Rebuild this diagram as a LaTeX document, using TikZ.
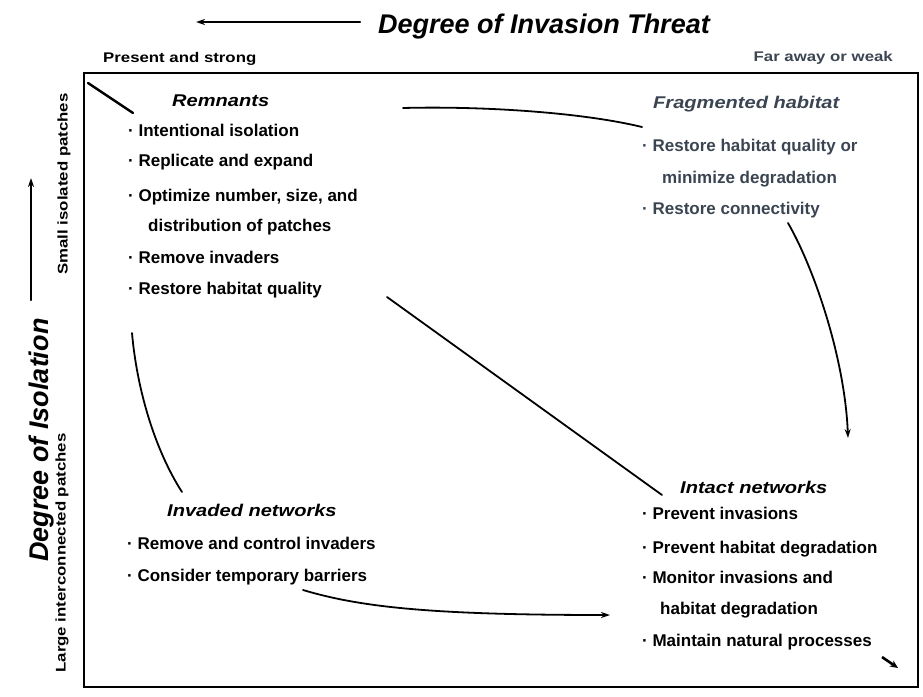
\documentclass[tikz,border=0pt]{standalone}
\usepackage{fontspec}
\usetikzlibrary{arrows.meta}
\newfontfamily\bodyfont{Liberation Sans}
\newfontfamily\headfont[FakeStretch=1.18]{Liberation Sans}
\newfontfamily\smallfont[FakeStretch=1.2]{Liberation Sans}
\newfontfamily\bigfont[FakeStretch=1.0]{Liberation Sans}
\definecolor{slate}{HTML}{3B4552}
\tikzset{
  bodytxt/.style={anchor=base west, inner sep=0pt, font=\bodyfont\bfseries\fontsize{17}{20}\selectfont},
  headtxt/.style={anchor=base west, inner sep=0pt, font=\headfont\bfseries\itshape\fontsize{17}{20}\selectfont},
  smalltxt/.style={inner sep=0pt, font=\smallfont\bfseries\fontsize{14}{16}\selectfont},
  bigtxt/.style={inner sep=0pt, font=\bigfont\bfseries\itshape\fontsize{27}{30}\selectfont},
  conn/.style={line width=1.8pt, line cap=round},
  arrowtip/.style={-{Stealth[length=9pt,width=6pt]}}
}
\begin{document}
\begin{tikzpicture}[x=1pt,y=-1pt]
\useasboundingbox (0,0) rectangle (923,696);
% frame
\draw[line width=2.6pt] (84,73) rectangle (918,687);

% top axis
\node[bigtxt, anchor=base west] (ttitle) at (378,33) {Degree of Invasion Threat};
\coordinate (tarrS) at (360,22);
\coordinate (tarrE) at (196,22);
\draw[conn, line width=2.2pt, arrowtip] (tarrS) -- (tarrE);
\node[smalltxt, anchor=base west] (tleft) at (103,62) {Present and strong};
\node[smalltxt, anchor=base east, text=slate] (tright) at (893,61) {Far away or weak};

% left axis
\node[bigtxt, rotate=90] (ltitle) at (42,440) {Degree of Isolation};
\coordinate (larrS) at (31,300);
\coordinate (larrE) at (31,178);
\draw[conn, line width=2.2pt, arrowtip] (larrS) -- (larrE);
\node[smalltxt, rotate=90] (ltop) at (64,184) {Small isolated patches};
\node[smalltxt, rotate=90] (lbot) at (62,553) {Large interconnected patches};

% Remnants
\node[headtxt] (remT) at (172,106) {Remnants};
\node[bodytxt] (rem1) at (128,136) {· Intentional isolation};
\node[bodytxt] (rem2) at (128,166) {· Replicate and expand};
\node[bodytxt] (rem3) at (128,201) {· Optimize number, size, and};
\node[bodytxt] (rem4) at (148,231) {distribution of patches};
\node[bodytxt] (rem5) at (128,263) {· Remove invaders};
\node[bodytxt] (rem6) at (128,294) {· Restore habitat quality};

% Fragmented habitat
\node[headtxt, text=slate] (fraT) at (653,108) {Fragmented habitat};
\node[bodytxt, text=slate] (fra1) at (642,151) {· Restore habitat quality or};
\node[bodytxt, text=slate] (fra2) at (662,183) {minimize degradation};
\node[bodytxt, text=slate] (fra3) at (642,214) {· Restore connectivity};

% Invaded networks
\node[headtxt] (invT) at (167,516) {Invaded networks};
\node[bodytxt] (inv1) at (127,549) {· Remove and control invaders};
\node[bodytxt] (inv2) at (127,581) {· Consider temporary barriers};

% Intact networks
\node[headtxt] (intT) at (680,493) {Intact networks};
\node[bodytxt] (int1) at (642,519) {· Prevent invasions};
\node[bodytxt] (int2) at (642,553) {· Prevent habitat degradation};
\node[bodytxt] (int3) at (642,583) {· Monitor invasions and};
\node[bodytxt] (int4) at (660,614) {habitat degradation};
\node[bodytxt] (int5) at (642,646) {· Maintain natural processes};

% connectors
\coordinate (cA) at (88,83);
\coordinate (cB) at (133,113);
\draw[conn, line width=2.4pt] (cA) -- (cB);

\coordinate (topS) at (403,108);
\coordinate (topE) at (642,127);
\draw[conn] (topS) .. controls (480,106) and (580,112) .. (topE);

\coordinate (rgtS) at (788,223);
\coordinate (rgtE) at (848,438);
\draw[conn, arrowtip] (rgtS) .. controls (815,270) and (845,360) .. (rgtE);

\coordinate (diaS) at (387,297);
\coordinate (diaE) at (662,495);
\draw[conn] (diaS) -- (diaE);

\coordinate (lftS) at (132,333);
\coordinate (lftE) at (182,492);
\draw[conn] (lftS) .. controls (137,390) and (155,450) .. (lftE);

\coordinate (botS) at (303,590);
\coordinate (botE) at (610,615);
\draw[conn, arrowtip] (botS) .. controls (360,607) and (430,615) .. (botE);

\coordinate (crS) at (882,657);
\coordinate (crE) at (898,668);
\draw[line width=2.6pt, -{Stealth[length=8pt,width=7pt]}] (crS) -- (crE);
\end{tikzpicture}
\end{document}
